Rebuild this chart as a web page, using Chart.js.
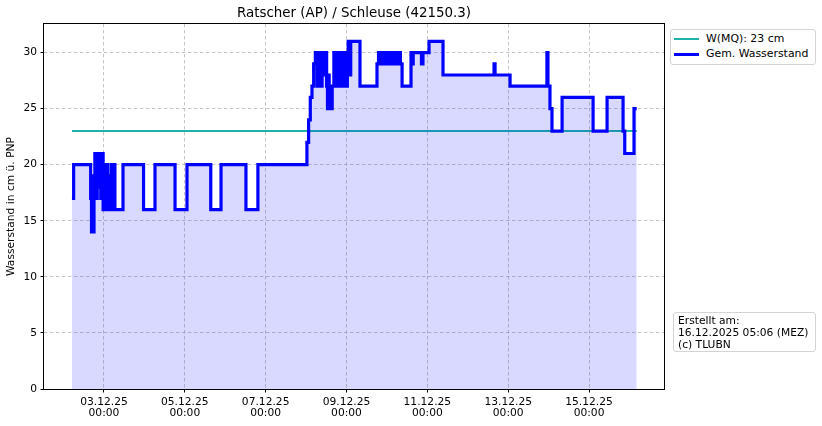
<!DOCTYPE html>
<html lang="de">
<head>
  <meta charset="UTF-8" />
  <title>Ratscher (AP) / Schleuse (42150.3)</title>
  <script src="https://cdn.jsdelivr.net/npm/chart.js"></script>
  <style>
    html, body { margin: 0; padding: 0; background: #fff; }
    body { font-family: 'DejaVu Sans', sans-serif; color: #000; }
    #wrap { position: relative; width: 822px; height: 426px; }
    .box {
      position: absolute;
      background: #fff;
      border: 1px solid #d4d4d4;
      border-radius: 3px;
      font-size: 10.7px;
      box-sizing: border-box;
    }
    .row { position: absolute; left: 3px; height: 14px; line-height: 14px; white-space: nowrap; font-size: 10.9px; }
    .sample { display: inline-block; width: 25px; vertical-align: middle; margin-right: 7px; }
  </style>
</head>
<body>
  <div id="wrap">
    <canvas id="chart" width="822" height="426"></canvas>

    <!-- Legend -->
    <div class="box" style="left:670px; top:29px; width:146px; height:36px;">
      <div class="row" style="top:2px;"><span class="sample" style="border-top:2px solid #20b2aa;"></span>W(MQ): 23 cm</div>
      <div class="row" style="top:17px;"><span class="sample" style="border-top:3px solid #0000ff;"></span>Gem. Wasserstand</div>
    </div>

    <!-- Info box -->
    <div class="box" style="left:673px; top:312px; width:143px; height:40px; padding:2px 0 0 4px; line-height:12px;">
      Erstellt am:<br>16.12.2025 05:06 (MEZ)<br>(c) TLUBN
    </div>
  </div>

  <script>
    // hours since 03.12.25 00:00 where the measured level changes, and the level from then on
    const hours = [
      -19, -18, -7.9, -7.4, -6.9, -6.4, -5.9, -5.4, -4.7, -4, -3.3, -2.6, -1.9, -1.2, -0.5,
      0.2, 0.9, 1.6, 2.3, 3, 3.7, 4.4, 5.1, 5.8, 6.5,
      11.3, 23.5, 30.3, 42.2, 49.3, 63.4, 69.5, 84.3, 91.4,
      120.5, 121.5, 122.5, 123.5, 124.5, 125.5, 126.5, 127.5, 128.5, 129.5, 130.5, 131.5,
      132.2, 132.7, 133.2, 133.7, 134.2, 134.8,
      135.5, 136.5, 137.5, 138.5, 139.5, 140.5, 141.5, 142.5, 143.5, 144.5,
      145, 146, 146.5, 152,
      162.1, 163, 164, 165, 166, 167, 168, 169, 170, 171, 172, 173, 174, 175, 176, 177,
      182.3, 183, 183.6, 188.5, 189.4, 193, 201.3, 231.6, 232.2, 241.1,
      263, 263.6, 264.8, 266, 272, 290.4, 298.7, 308.2, 309.2, 314.7, 316.3
    ];
    const level = [
      17, 20, 17, 14, 19, 14, 18, 21, 17, 21, 18, 21, 17, 21, 16,
      20, 16, 20, 16, 19, 16, 20, 16, 20, 16,
      20, 16, 20, 16, 20, 16, 20, 16, 20,
      22, 24, 26, 27, 29, 30, 27, 30, 27, 30, 28, 30,
      27, 25, 28, 25, 27, 25,
      27, 30, 27, 30, 27, 30, 27, 30, 27, 30,
      31, 28, 31, 27,
      29, 30, 29, 30, 29, 30, 29, 30, 29, 30, 29, 30, 29, 30, 29, 27,
      30, 29, 30, 29, 30, 31, 28, 29, 28, 27,
      30, 27, 25, 23, 26, 23, 26, 23, 21, 25, 25
    ];

    // mean water level W(MQ)
    const mqLevel = 23;
    const mqHours = [-19, 316.3];

    const tickHours = [0, 48, 96, 144, 192, 240, 288];
    const tickDates = ['03.12.25', '05.12.25', '07.12.25', '09.12.25', '11.12.25', '13.12.25', '15.12.25'];
    const tickTimes = ['00:00', '00:00', '00:00', '00:00', '00:00', '00:00', '00:00'];
    const yTicks = [0, 5, 10, 15, 20, 25, 30];

    // black box round the plot area
    const frame = {
      id: 'frame',
      afterDraw(chart) {
        const { ctx, chartArea: a } = chart;
        ctx.save();
        ctx.strokeStyle = '#000';
        ctx.lineWidth = 1;
        ctx.strokeRect(Math.round(a.left) - 0.5, Math.round(a.top) - 0.5,
          Math.round(a.right - a.left) + 1, Math.round(a.bottom - a.top) + 1);
        ctx.restore();
      }
    };

    const gridOpts = { color: '#b8b8b8', lineWidth: 0.8, tickColor: '#000', tickLength: 3.5, tickWidth: 1 };

    new Chart(document.getElementById('chart'), {
      type: 'line',
      data: {
        datasets: [
          {
            label: 'Gem. Wasserstand',
            data: hours.map((h, i) => ({ x: h, y: level[i] })),
            borderColor: '#0000ff',
            borderWidth: 3.2,
            backgroundColor: 'rgba(0, 0, 255, 0.15)',
            fill: 'origin',
            stepped: true,
            pointRadius: 0
          },
          {
            label: 'W(MQ): 23 cm',
            data: mqHours.map(h => ({ x: h, y: mqLevel })),
            borderColor: '#20b2aa',
            borderWidth: 2,
            fill: false,
            pointRadius: 0
          }
        ]
      },
      options: {
        responsive: false,
        animation: false,
        layout: { padding: { left: 0, right: 158, top: 0, bottom: 0 } },
        plugins: {
          legend: { display: false },
          tooltip: { enabled: false },
          title: {
            display: true,
            fullSize: false,
            text: 'Ratscher (AP) / Schleuse (42150.3)',
            color: '#000',
            font: { family: 'DejaVu Sans', size: 13.4, weight: 'normal' },
            padding: { top: 5, bottom: 2.9 }
          }
        },
        scales: {
          x: {
            type: 'linear',
            min: -35.6,
            max: 332.5,
            afterBuildTicks: s => { s.ticks = tickHours.map(v => ({ value: v })); },
            afterFit: s => { s.height = 37; },
            ticks: {
              autoSkip: false,
              maxRotation: 0,
              padding: 4.5,
              color: '#000',
              font: { family: 'DejaVu Sans', size: 10.7, lineHeight: 1.0 },
              callback: (v, i) => [tickDates[i], tickTimes[i]]
            },
            grid: gridOpts,
            border: { display: false, dash: [3.5, 2.5] }
          },
          y: {
            min: 0,
            max: 32.55,
            afterBuildTicks: s => { s.ticks = yTicks.map(v => ({ value: v })); },
            afterFit: s => { s.width = 44; },
            ticks: {
              padding: 3.5,
              color: '#000',
              font: { family: 'DejaVu Sans', size: 10.7 }
            },
            title: {
              display: true,
              text: 'Wasserstand in cm ü. PNP',
              color: '#000',
              font: { family: 'DejaVu Sans', size: 10.7 },
              padding: { top: 5, bottom: 0 }
            },
            grid: gridOpts,
            border: { display: false, dash: [3.5, 2.5] }
          }
        }
      },
      plugins: [frame]
    });
  </script>
</body>
</html>
